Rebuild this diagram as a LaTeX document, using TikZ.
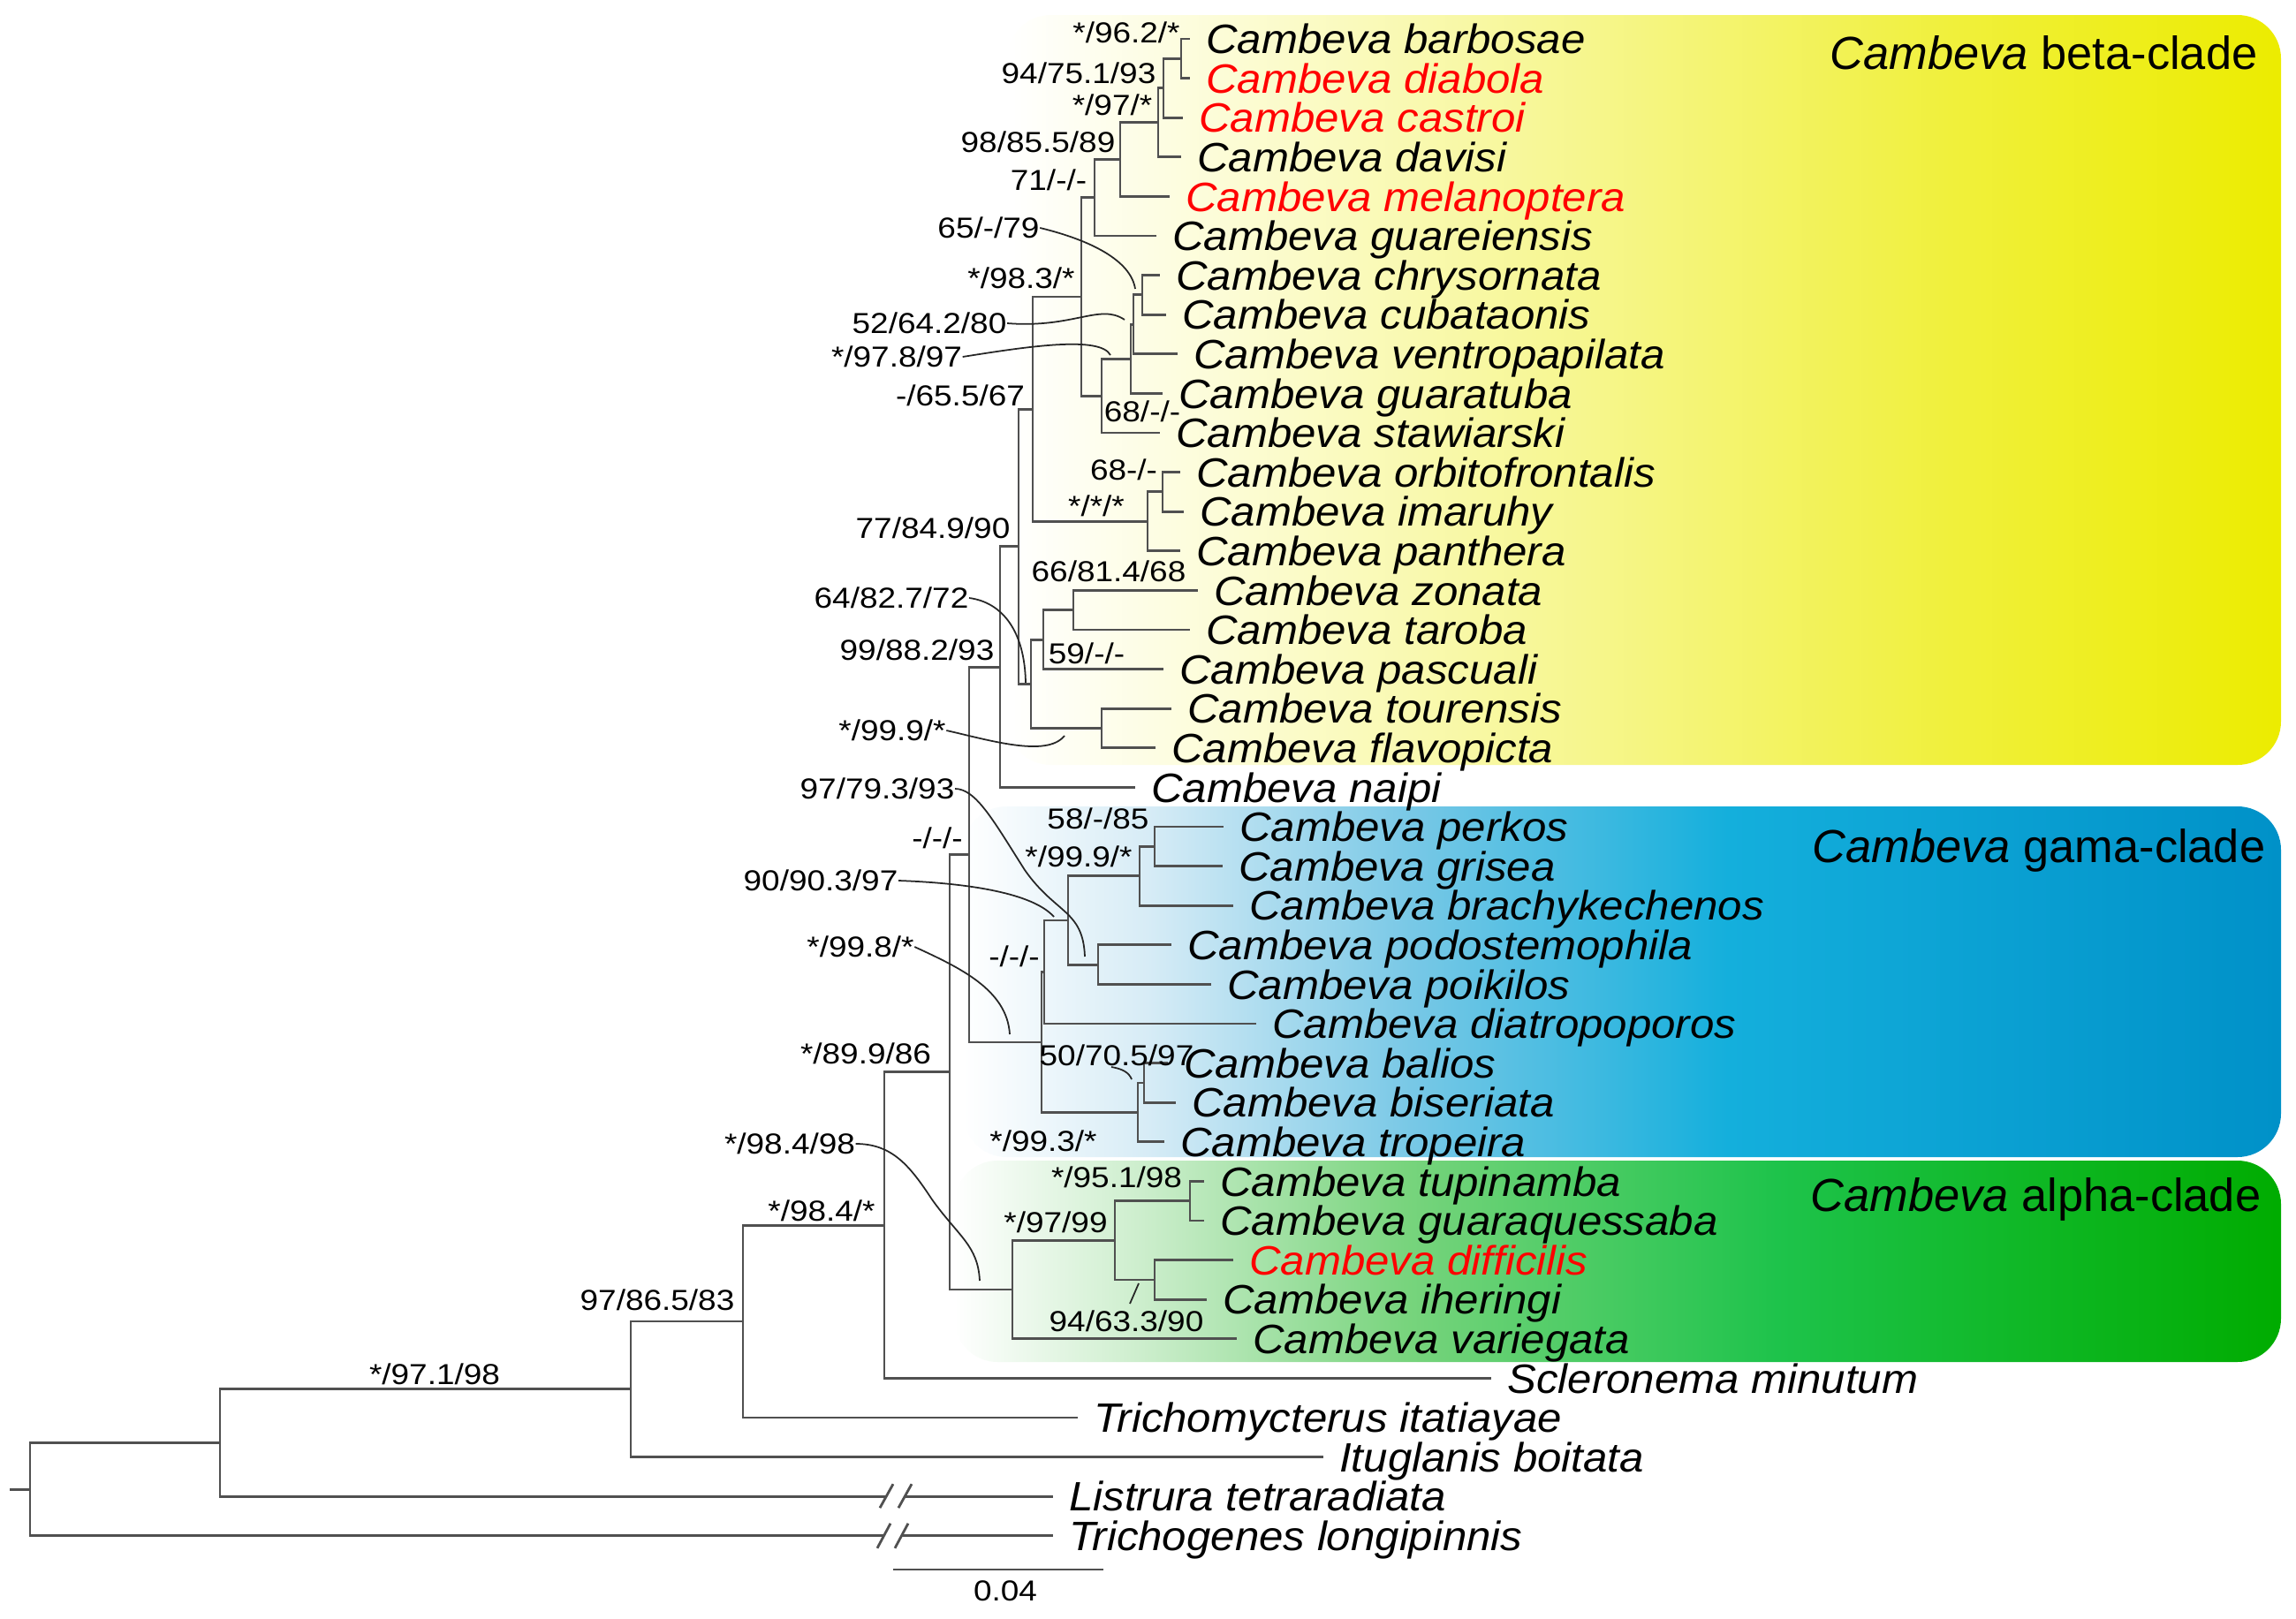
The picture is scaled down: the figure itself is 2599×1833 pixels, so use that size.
\documentclass[tikz,border=0pt]{standalone}
\usepackage{fontspec}
\setmainfont{Liberation Sans}
\newfontfamily\taxfam[FakeStretch=1.06]{Liberation Sans}
\newfontfamily\suppfam[FakeStretch=1.13]{Liberation Sans}

\definecolor{treegray}{RGB}{80,80,80}
\definecolor{betaA}{RGB}{252,252,212}
\definecolor{betaB}{RGB}{246,246,140}
\definecolor{betaC}{RGB}{240,240,60}
\definecolor{betaD}{RGB}{236,236,0}
\definecolor{gamaA}{RGB}{215,236,246}
\definecolor{gamaB}{RGB}{120,200,230}
\definecolor{gamaC}{RGB}{20,175,220}
\definecolor{gamaD}{RGB}{0,145,200}
\definecolor{alphaA}{RGB}{205,238,205}
\definecolor{alphaB}{RGB}{120,212,125}
\definecolor{alphaC}{RGB}{30,195,75}
\definecolor{alphaD}{RGB}{0,172,0}

\pgfdeclarehorizontalshading{betashade}{100bp}{color(0bp)=(white); color(25bp)=(white); color(34bp)=(betaA); color(48bp)=(betaB); color(62bp)=(betaC); color(75bp)=(betaD); color(100bp)=(betaD)}
\pgfdeclarehorizontalshading{gamashade}{100bp}{color(0bp)=(white); color(25bp)=(white); color(32bp)=(gamaA); color(42bp)=(gamaB); color(54bp)=(gamaC); color(75bp)=(gamaD); color(100bp)=(gamaD)}
\pgfdeclarehorizontalshading{alphashade}{100bp}{color(0bp)=(white); color(25bp)=(white); color(32bp)=(alphaA); color(42bp)=(alphaB); color(56bp)=(alphaC); color(75bp)=(alphaD); color(100bp)=(alphaD)}

\tikzset{
  br/.style={draw=treegray, line width=0.8pt},
  lead/.style={draw=black!85, line width=0.5pt},
  taxon/.style={anchor=west, inner xsep=5pt, inner ysep=0pt, text height=9.45pt, text depth=0pt,
    font=\taxfam\itshape\fontsize{13.2}{15}\selectfont},
  hl/.style={taxon, text=red},
  supp/.style={inner sep=0pt, text height=6.66pt, text depth=0pt, font=\suppfam\fontsize{9.3}{11}\selectfont},
  cladelbl/.style={anchor=east, inner sep=0pt, text height=10.7pt, text depth=0pt, font=\fontsize{14.9}{17}\selectfont},
}

\begin{document}
\begin{tikzpicture}[x=0.01cm, y=-0.01cm]
\useasboundingbox (0,0) rectangle (2599,1833);

% Clade boxes
\shade[shading=betashade, rounded corners=14pt] (1140,17) rectangle (2582,866);
\shade[shading=gamashade, rounded corners=14pt] (1090,913) rectangle (2582,1310);
\shade[shading=alphashade, rounded corners=14pt] (1080,1314) rectangle (2582,1542);
\node[cladelbl] (betalbl) at (2556,60) {\textit{Cambeva} beta-clade};
\node[cladelbl] (gamalbl) at (2565,958) {\textit{Cambeva} gama-clade};
\node[cladelbl] (alphalbl) at (2560,1353) {\textit{Cambeva} alpha-clade};

% Taxa
\node[taxon] (barbosae) at (1347,44) {Cambeva barbosae};
\node[hl] (diabola) at (1347,88.6) {Cambeva diabola};
\node[hl] (castroi) at (1339,133.2) {Cambeva castroi};
\node[taxon] (davisi) at (1337,177.8) {Cambeva davisi};
\node[hl] (melanoptera) at (1324,222.4) {Cambeva melanoptera};
\node[taxon] (guareiensis) at (1309,267) {Cambeva guareiensis};
\node[taxon] (chrysornata) at (1313,311.6) {Cambeva chrysornata};
\node[taxon] (cubataonis) at (1320,356.2) {Cambeva cubataonis};
\node[taxon] (ventropapilata) at (1333,400.8) {Cambeva ventropapilata};
\node[taxon] (guaratuba) at (1316,445.4) {Cambeva guaratuba};
\node[taxon] (stawiarski) at (1313,490) {Cambeva stawiarski};
\node[taxon] (orbitofrontalis) at (1336,534.6) {Cambeva orbitofrontalis};
\node[taxon] (imaruhy) at (1340,579.2) {Cambeva imaruhy};
\node[taxon] (panthera) at (1336,623.8) {Cambeva panthera};
\node[taxon] (zonata) at (1356,668.4) {Cambeva zonata};
\node[taxon] (taroba) at (1347,713) {Cambeva taroba};
\node[taxon] (pascuali) at (1317,757.6) {Cambeva pascuali};
\node[taxon] (tourensis) at (1326,802.2) {Cambeva tourensis};
\node[taxon] (flavopicta) at (1308,846.8) {Cambeva flavopicta};
\node[taxon] (naipi) at (1285,891.4) {Cambeva naipi};
\node[taxon] (perkos) at (1385,936) {Cambeva perkos};
\node[taxon] (grisea) at (1384,980.6) {Cambeva grisea};
\node[taxon] (brachykechenos) at (1396,1025.2) {Cambeva brachykechenos};
\node[taxon] (podostemophila) at (1326,1069.8) {Cambeva podostemophila};
\node[taxon] (poikilos) at (1371,1114.4) {Cambeva poikilos};
\node[taxon] (diatropoporos) at (1422,1159) {Cambeva diatropoporos};
\node[taxon] (balios) at (1322,1203.6) {Cambeva balios};
\node[taxon] (biseriata) at (1331,1248.2) {Cambeva biseriata};
\node[taxon] (tropeira) at (1318,1292.8) {Cambeva tropeira};
\node[taxon] (tupinamba) at (1363,1337.4) {Cambeva tupinamba};
\node[taxon] (guaraquessaba) at (1363,1382) {Cambeva guaraquessaba};
\node[hl] (difficilis) at (1396,1426.6) {Cambeva difficilis};
\node[taxon] (iheringi) at (1366,1471.2) {Cambeva iheringi};
\node[taxon] (variegata) at (1400,1515.8) {Cambeva variegata};
\node[taxon] (scleronema) at (1688,1560.4) {Scleronema minutum};
\node[taxon] (trichomycterus) at (1220,1605) {Trichomycterus itatiayae};
\node[taxon] (ituglanis) at (1498,1649.6) {Ituglanis boitata};
\node[taxon] (listrura) at (1192,1694.2) {Listrura tetraradiata};
\node[taxon] (trichogenes) at (1192,1738.8) {Trichogenes longipinnis};

% Internal nodes
\coordinate (nBD) at (1337,66.3);
\coordinate (nBDC) at (1317,99.75);
\coordinate (nBDCD) at (1311,138.8);
\coordinate (nMel) at (1268,180.6);
\coordinate (nGua) at (1239,223.8);
\coordinate (nChr) at (1293,333.9);
\coordinate (nVen) at (1283,367.35);
\coordinate (nGrt) at (1280,406.4);
\coordinate (nSta) at (1247,448.2);
\coordinate (nE) at (1224,336);
\coordinate (nOrb) at (1316,556.9);
\coordinate (nPan) at (1299,590.35);
\coordinate (nF) at (1169,463.2);
\coordinate (nZon) at (1215,690.7);
\coordinate (nPas) at (1181,724.15);
\coordinate (nTou) at (1247,824.5);
\coordinate (nG) at (1167,774.3);
\coordinate (nH) at (1153,618.75);
\coordinate (nBeta) at (1132,755.1);
\coordinate (nPer) at (1307,958.3);
\coordinate (nBra) at (1290,991.75);
\coordinate (nPod) at (1243,1092.1);
\coordinate (nG1) at (1209,1041.9);
\coordinate (nGb) at (1182,1100.45);
\coordinate (nBal) at (1295,1225.9);
\coordinate (nTro) at (1288,1259.35);
\coordinate (nGam) at (1179,1179.9);
\coordinate (nBG) at (1097,967.5);
\coordinate (nTup) at (1347,1359.7);
\coordinate (nDif) at (1307,1448.9);
\coordinate (nAl1) at (1262,1404.3);
\coordinate (nAlp) at (1146,1460);
\coordinate (nCam) at (1075,1213.8);
\coordinate (nScl) at (1001,1387.1);
\coordinate (nTri) at (841,1496);
\coordinate (nItu) at (714,1572.8);
\coordinate (nLis) at (249,1633.5);
\coordinate (root) at (34,1686.2);
\coordinate (stub) at (11,1686.2);

% Branches, beta-clade
\draw[br] (nBD) |- (barbosae.west);
\draw[br] (nBD) |- (diabola.west);
\draw[br] (nBDC) |- (nBD);
\draw[br] (nBDC) |- (castroi.west);
\draw[br] (nBDCD) |- (nBDC);
\draw[br] (nBDCD) |- (davisi.west);
\draw[br] (nMel) |- (nBDCD);
\draw[br] (nMel) |- (melanoptera.west);
\draw[br] (nGua) |- (nMel);
\draw[br] (nGua) |- (guareiensis.west);
\draw[br] (nChr) |- (chrysornata.west);
\draw[br] (nChr) |- (cubataonis.west);
\draw[br] (nVen) |- (nChr);
\draw[br] (nVen) |- (ventropapilata.west);
\draw[br] (nGrt) |- (nVen);
\draw[br] (nGrt) |- (guaratuba.west);
\draw[br] (nSta) |- (nGrt);
\draw[br] (nSta) |- (stawiarski.west);
\draw[br] (nE) |- (nGua);
\draw[br] (nE) |- (nSta);
\draw[br] (nOrb) |- (orbitofrontalis.west);
\draw[br] (nOrb) |- (imaruhy.west);
\draw[br] (nPan) |- (nOrb);
\draw[br] (nPan) |- (panthera.west);
\draw[br] (nF) |- (nE);
\draw[br] (nF) |- (nPan);
\draw[br] (nZon) |- (zonata.west);
\draw[br] (nZon) |- (taroba.west);
\draw[br] (nPas) |- (nZon);
\draw[br] (nPas) |- (pascuali.west);
\draw[br] (nTou) |- (tourensis.west);
\draw[br] (nTou) |- (flavopicta.west);
\draw[br] (nG) |- (nPas);
\draw[br] (nG) |- (nTou);
\draw[br] (nH) |- (nF);
\draw[br] (nH) |- (nG);
\draw[br] (nBeta) |- (nH);
\draw[br] (nBeta) |- (naipi.west);

% Branches, gama-clade
\draw[br] (nPer) |- (perkos.west);
\draw[br] (nPer) |- (grisea.west);
\draw[br] (nBra) |- (nPer);
\draw[br] (nBra) |- (brachykechenos.west);
\draw[br] (nPod) |- (podostemophila.west);
\draw[br] (nPod) |- (poikilos.west);
\draw[br] (nG1) |- (nBra);
\draw[br] (nG1) |- (nPod);
\draw[br] (nGb) |- (nG1);
\draw[br] (nGb) |- (diatropoporos.west);
\draw[br] (nBal) |- (balios.west);
\draw[br] (nBal) |- (biseriata.west);
\draw[br] (nTro) |- (nBal);
\draw[br] (nTro) |- (tropeira.west);
\draw[br] (nGam) |- (nGb);
\draw[br] (nGam) |- (nTro);
\draw[br] (nBG) |- (nBeta);
\draw[br] (nBG) |- (nGam);

% Branches, alpha-clade
\draw[br] (nTup) |- (tupinamba.west);
\draw[br] (nTup) |- (guaraquessaba.west);
\draw[br] (nDif) |- (difficilis.west);
\draw[br] (nDif) |- (iheringi.west);
\draw[br] (nAl1) |- (nTup);
\draw[br] (nAl1) |- (nDif);
\draw[br] (nAlp) |- (nAl1);
\draw[br] (nAlp) |- (variegata.west);

% Branches, outgroups
\draw[br] (nCam) |- (nBG);
\draw[br] (nCam) |- (nAlp);
\draw[br] (nScl) |- (nCam);
\draw[br] (nScl) |- (scleronema.west);
\draw[br] (nTri) |- (nScl);
\draw[br] (nTri) |- (trichomycterus.west);
\draw[br] (nItu) |- (nTri);
\draw[br] (nItu) |- (ituglanis.west);
\draw[br] (nLis) |- (nItu);
\draw[br] (root) |- (nLis);
\draw[br] (root) -- (stub);

% Broken branches
\coordinate (lb1) at (1003,1694.2);
\coordinate (lb2) at (1024,1694.2);
\coordinate (tb1) at (1000,1738.8);
\coordinate (tb2) at (1020,1738.8);
\draw[br] (nLis) |- (lb1);
\draw[br] (lb2) -- (listrura.west);
\draw[br] (root) |- (tb1);
\draw[br] (tb2) -- (trichogenes.west);
\draw[br] (lb1) ++(-7,13) -- ++(15,-27);
\draw[br] (lb2) ++(-7,13) -- ++(15,-27);
\draw[br] (tb1) ++(-7,14) -- ++(15,-28);
\draw[br] (tb2) ++(-7,14) -- ++(15,-28);

% Scale bar
\coordinate (sb1) at (1011,1777);
\coordinate (sb2) at (1249,1777);
\draw[br] (sb1) -- (sb2);
\node[supp] (sblbl) at (1138,1801) {0.04};

% Support values
\node[supp] (s1) at (1275,37) {*/96.2/*};
\node[supp] (s2) at (1221,83) {94/75.1/93};
\node[supp] (s3) at (1259,119) {*/97/*};
\node[supp] (s4) at (1175,161) {98/85.5/89};
\node[supp] (s5) at (1187,204) {71/-/-};
\node[supp] (s6) at (1119,258) {65/-/79};
\node[supp] (s7) at (1156,315) {*/98.3/*};
\node[supp] (s8) at (1052,366) {52/64.2/80};
\node[supp] (s9) at (1015,404) {*/97.8/97};
\node[supp] (s10) at (1087,448) {-/65.5/67};
\node[supp] (s11) at (1293,466) {68/-/-};
\node[supp] (s12) at (1272,532) {68-/-};
\node[supp] (s13) at (1241,573) {*/*/*};
\node[supp] (s14) at (1056,598) {77/84.9/90};
\node[supp] (s15) at (1255,647) {66/81.4/68};
\node[supp] (s16) at (1009,677) {64/82.7/72};
\node[supp] (s17) at (1038,736) {99/88.2/93};
\node[supp] (s18) at (1230,740) {59/-/-};
\node[supp] (s19) at (1010,827) {*/99.9/*};
\node[supp] (s20) at (993,893) {97/79.3/93};
\node[supp] (s21) at (1243,927) {58/-/85};
\node[supp] (s22) at (1061,949) {-/-/-};
\node[supp] (s23) at (1221,970) {*/99.9/*};
\node[supp] (s24) at (929,997) {90/90.3/97};
\node[supp] (s25) at (974,1072) {*/99.8/*};
\node[supp] (s26) at (1148,1083) {-/-/-};
\node[supp] (s27) at (980,1193) {*/89.9/86};
\node[supp] (s28) at (1264,1195) {50/70.5/97};
\node[supp] (s29) at (1181,1292) {*/99.3/*};
\node[supp] (s30) at (894,1295) {*/98.4/98};
\node[supp] (s31) at (1264,1333) {*/95.1/98};
\node[supp] (s32) at (1195,1384) {*/97/99};
\node[supp] (s33) at (930,1371) {*/98.4/*};
\node[supp] (s34) at (744,1472) {97/86.5/83};
\node[supp] (s35) at (1275,1496) {94/63.3/90};
\node[supp] (s36) at (492,1556) {*/97.1/98};

% Leaders
\coordinate (c65) at (1285,327);
\coordinate (c52) at (1273,362);
\coordinate (c978) at (1257,402);
\coordinate (c6482) at (1161,773);
\coordinate (c999) at (1205,833);
\coordinate (c793) at (1228,1083);
\coordinate (c903) at (1193,1038);
\coordinate (c998) at (1143,1171);
\coordinate (a5070) at (1258,1208);
\coordinate (c5070) at (1281,1222);
\coordinate (c9849) at (1109,1450);
\coordinate (a9463) at (1279,1476);
\coordinate (c9463) at (1289,1453);
\draw[lead] (s6.east) .. controls (1235,272) and (1280,295) .. (c65);
\draw[lead] (s8.east) .. controls (1215,372) and (1245,343) .. (c52);
\draw[lead] (s9.east) .. controls (1165,392) and (1245,380) .. (c978);
\draw[lead] (s16.east) .. controls (1135,682) and (1160,715) .. (c6482);
\draw[lead] (s19.east) .. controls (1120,838) and (1185,858) .. (c999);
\draw[lead] (s20.east) .. controls (1105,893) and (1125,930) .. (1160,985) .. controls (1195,1035) and (1226,1030) .. (c793);
\draw[lead] (s24.east) .. controls (1100,1000) and (1170,1012) .. (c903);
\draw[lead] (s25.east) .. controls (1085,1095) and (1140,1120) .. (c998);
\draw[lead] (a5070) .. controls (1270,1210) and (1278,1214) .. (c5070);
\draw[lead] (s30.east) .. controls (1010,1295) and (1030,1320) .. (1055,1358) .. controls (1085,1400) and (1107,1410) .. (c9849);
\draw[lead] (a9463) -- (c9463);

\end{tikzpicture}
\end{document}
